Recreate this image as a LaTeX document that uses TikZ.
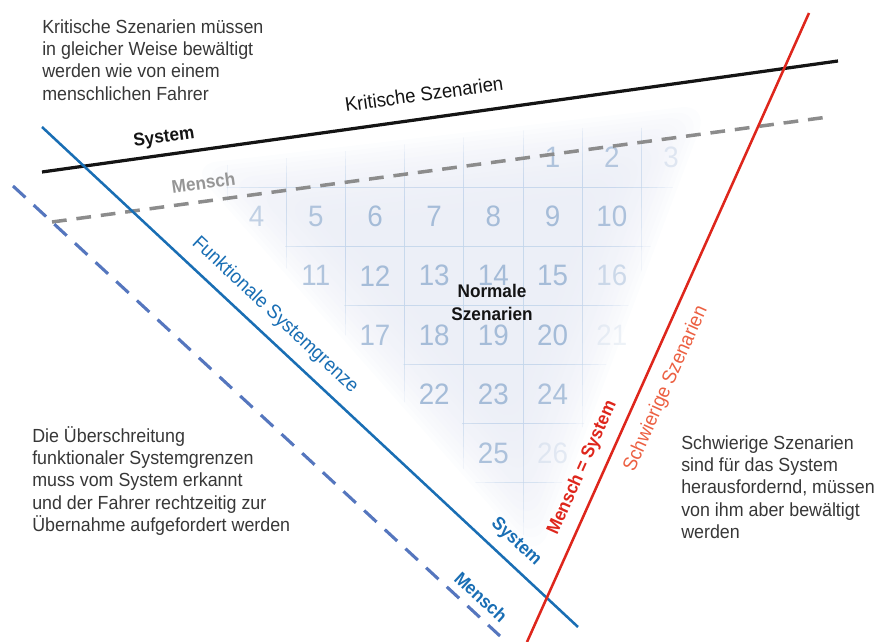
\documentclass[tikz,border=0pt]{standalone}
\usepackage{fontspec}
\setmainfont{Liberation Sans}[FakeStretch=0.94]
\usetikzlibrary{calc}

\definecolor{txtgray}{RGB}{55,55,55}
\definecolor{sysblack}{RGB}{20,20,20}
\definecolor{mengray}{RGB}{140,140,140}
\definecolor{labgray}{RGB}{150,150,150}
\definecolor{fblue}{RGB}{25,110,180}
\definecolor{fdblue}{RGB}{85,118,190}
\definecolor{eqred}{RGB}{222,38,28}
\definecolor{schworange}{RGB}{236,96,66}
\definecolor{haze}{RGB}{234,237,246}
\definecolor{gridblue}{RGB}{196,214,236}
\definecolor{numblue}{RGB}{165,188,216}

\begin{document}
\begin{tikzpicture}[x=0.025cm, y=-0.025cm,
  body/.style={anchor=north west, inner sep=0pt, align=left, text=txtgray, font=\fontsize{13.5}{15.9}\selectfont},
  lbl/.style={inner sep=0pt, font=\fontsize{14}{16}\selectfont},
  blbl/.style={inner sep=0pt, font=\fontsize{13}{16.4}\selectfont\bfseries},
  num/.style={inner sep=0pt, text=numblue, font=\fontsize{21}{21}\selectfont},
  gridline/.style={draw=gridblue, line width=0.6pt, draw opacity=0.2},
  hazelayer/.style={fill=haze, fill opacity=0.12, rounded corners=20pt}]
\useasboundingbox (0,0) rectangle (882,642);

\coordinate (sysL) at (42,172);  \coordinate (sysR) at (838,61);
\coordinate (menL) at (52,222);  \coordinate (menR) at (828,117);
\coordinate (fgsT) at (42,127);  \coordinate (fgsB) at (578,627);
\coordinate (fgmT) at (13,186);  \coordinate (fgmB) at (500,636);
\coordinate (eqB) at (527,642);  \coordinate (eqT) at (809,13);

% haze behind the normal scenarios, built up in layers
\coordinate (hc) at (485,280);
\coordinate (h1) at (300,208);
\coordinate (h2) at (625,170);
\coordinate (h3) at (518,455);

\begin{scope}
  \clip (13,100) -- (770,100) -- (548,598) -- cycle;
  \foreach \i in {0,...,17}
    \fill[hazelayer] ($(hc)!1.6-0.05*\i!(h1)$) -- ($(hc)!1.6-0.05*\i!(h2)$) -- ($(hc)!1.6-0.05*\i!(h3)$) -- cycle;
  \clip (226,128) -- (760,128) -- (760,560) -- (462,560) -- (462,422.5) -- (403.6,422.5)
    -- (403.6,363.4) -- (344.4,363.4) -- (344.4,304.3) -- (285.2,304.3) -- (285.2,245.2)
    -- (226,245.2) -- cycle;
  \foreach \i in {0,...,7} {
    \begin{scope}
      \clip[rounded corners=20pt] ($(hc)!1.55-0.08*\i!(h1)$) -- ($(hc)!1.55-0.08*\i!(h2)$) -- ($(hc)!1.55-0.08*\i!(h3)$) -- cycle;
      \foreach \k in {0,...,8}
        \draw[gridline] ({227+59.2*\k},100) -- ({227+59.2*\k},560);
      \foreach \r in {1,...,7}
        \draw[gridline] (200,{128+59.1*\r}) -- (760,{128+59.1*\r});
    \end{scope}
  }
\end{scope}

% numbered cells
\foreach \n/\c/\r/\o in {1/5/0/.85, 2/6/0/.8, 3/7/0/.3,
    4/0/1/.65, 5/1/1/.85, 6/2/1/1, 7/3/1/1, 8/4/1/1, 9/5/1/1, 10/6/1/.9,
    11/1/2/.85, 12/2/2/1, 13/3/2/1, 14/4/2/1, 15/5/2/1, 16/6/2/.5,
    17/2/3/.9, 18/3/3/1, 19/4/3/1, 20/5/3/1, 21/6/3/.2,
    22/3/4/1, 23/4/4/1, 24/5/4/.9,
    25/4/5/.9, 26/5/5/.25}
  \node (n\n) [num, opacity=\o] at ({227+59.2*(\c+.5)},{128+59.1*(\r+.5)}) {\n};

\draw[line width=2.3pt, sysblack] (sysL) -- (sysR);
\draw[line width=2.5pt, mengray, dash pattern=on 10.5pt off 7pt] (menL) -- (menR);
\draw[line width=1.8pt, fblue] (fgsT) -- (fgsB);
\draw[line width=2.2pt, fdblue, dash pattern=on 12pt off 8pt] (fgmT) -- (fgmB);
\draw[line width=1.8pt, eqred] (eqB) -- (eqT);

\node (lblKrit) [lbl, text=sysblack, rotate=7.9] at (424,94) {Kritische Szenarien};
\node (lblSys) [blbl, text=sysblack, rotate=7.9] at (164,138) {System};
\node (lblMen) [blbl, text=labgray, rotate=7.8] at (203.5,182.5) {Mensch};
\node (lblFunk) [lbl, text=fblue, rotate=-43] at (275,315) {Funktionale Systemgrenze};
\node (lblFSys) [blbl, text=fblue, rotate=-43] at (516,542) {System};
\node (lblFMen) [blbl, text=fblue, rotate=-42.7] at (481,597) {Mensch};
\node (lblEq) [blbl, text=eqred, rotate=65.85] at (582.5,468) {Mensch = System};
\node (lblSchw) [lbl, text=schworange, rotate=65.85] at (666,389) {Schwierige Szenarien};
\node (normal) [blbl, text=sysblack, align=center] at (492,302) {Normale\\Szenarien};

\node (txtKrit) [body] at (42,19) {Kritische Szenarien müssen\\in gleicher Weise bewältigt\\werden wie von einem\\menschlichen Fahrer};
\node (txtGrenze) [body] at (32,426) {Die Überschreitung\\funktionaler Systemgrenzen\\muss vom System erkannt\\und der Fahrer rechtzeitig zur\\Übernahme aufgefordert werden};
\node (txtSchw) [body] at (681,435) {Schwierige Szenarien\\sind für das System\\herausfordernd, müssen\\von ihm aber bewältigt\\werden};
\end{tikzpicture}
\end{document}
